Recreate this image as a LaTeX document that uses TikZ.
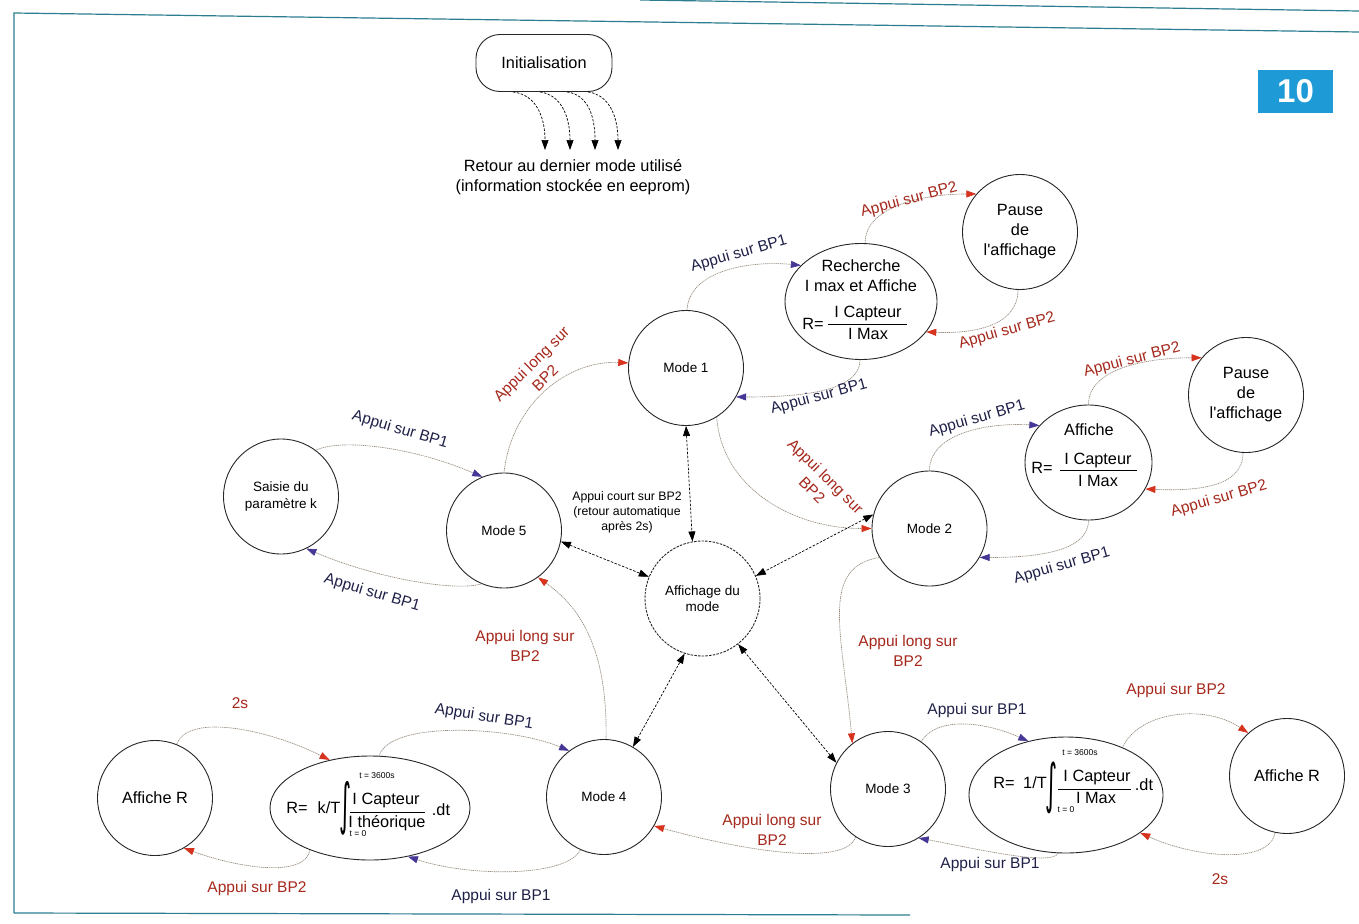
\documentclass[tikz,border=0pt]{standalone}
\usepackage{fontspec}
\setmainfont{Liberation Sans}
\newfontfamily\dejavu{DejaVu Sans}
\usepackage{graphicx}
\usetikzlibrary{arrows.meta,shapes.geometric}
\definecolor{navytxt}{RGB}{30,32,72}
\definecolor{redtxt}{RGB}{165,40,28}
\definecolor{tipblue}{RGB}{70,55,150}
\definecolor{tipred}{RGB}{215,50,30}
\definecolor{lineclr}{RGB}{150,138,125}
\definecolor{frameclr}{RGB}{45,125,145}
\definecolor{badgeclr}{RGB}{30,155,215}
\begin{document}
\begin{tikzpicture}[x=1pt,y=-1pt,
  stcirc/.style={circle, draw=black!85, line width=0.9pt, minimum size=115pt, inner sep=0pt, align=center},
  elnode/.style={ellipse, draw=black!85, line width=0.9pt, inner sep=0pt},
  modelbl/.style={font=\fontsize{13.5}{16}\selectfont},
  biglbl/.style={font=\fontsize{16.3}{20}\selectfont, align=center, inner sep=0pt},
  limlbl/.style={font=\fontsize{8.5}{10}\selectfont, inner sep=0pt},
  lbl/.style={font=\fontsize{15.5}{19.5}\selectfont, inner sep=0pt, align=center},
  bpone/.style={lbl, text=navytxt},
  bptwo/.style={lbl, text=redtxt},
  conn/.style={draw=lineclr, line width=0.65pt, dash pattern=on 1.2pt off 0.7pt},
  toone/.style={conn, -{Triangle[length=10pt,width=7pt,color=tipblue]}},
  totwo/.style={conn, -{Triangle[length=10pt,width=7pt,color=tipred]}},
  twoway/.style={draw=black, line width=0.7pt, dash pattern=on 2.5pt off 1.5pt, {Triangle[length=10pt,width=7pt]}-{Triangle[length=10pt,width=7pt]}},
  initarr/.style={draw=black, line width=0.7pt, dash pattern=on 2.5pt off 1.5pt, -{Triangle[length=10pt,width=7pt]}},
  rulestyle/.style={draw=black, line width=0.9pt}
]
\fill[white] (0,0) rectangle (1359,923);
\useasboundingbox (0,0) rectangle (1359,923);

% frame lines
\draw[frameclr, line width=1.2pt] (14,913) -- (14,13) -- (1359,32);
\draw[frameclr, line width=1.2pt] (640,0) -- (1359,11);
\draw[frameclr, line width=1.2pt] (14,913) -- (910,915);

% badge
\node[fill=badgeclr, minimum width=75pt, minimum height=43pt, inner sep=0pt, text=white, font=\fontsize{33}{33}\selectfont\bfseries] (badge) at (1295.5,91.5) {10};

% initialisation
\node[draw=black!85, line width=0.9pt, rounded corners=24pt, minimum width=136pt, minimum height=57pt, font=\fontsize{16.3}{20}\selectfont] (init) at (544,63) {Initialisation};
\coordinate (r1) at (545,150);
\coordinate (r2) at (570,150);
\coordinate (r3) at (595,150);
\coordinate (r4) at (618,150);
\draw[initarr] ([xshift=-31pt]init.south) .. controls +(24,3) and +(0,-32) .. (r1);
\draw[initarr] ([xshift=-4pt]init.south) .. controls +(22,3) and +(0,-32) .. (r2);
\draw[initarr] ([xshift=23pt]init.south) .. controls +(22,3) and +(0,-32) .. (r3);
\draw[initarr] ([xshift=44pt]init.south) .. controls +(22,3) and +(0,-32) .. (r4);
\node[biglbl] (ret) at (573,177) {Retour au dernier mode utilisé\\(information stockée en eeprom)};

% states
\node[stcirc, modelbl] (m1) at (686,368) {Mode 1};
\node[stcirc, modelbl] (m2) at (929.5,528.5) {Mode 2};
\node[stcirc, modelbl] (m3) at (888,789) {Mode 3};
\node[stcirc, modelbl] (m4) at (604,797) {Mode 4};
\node[stcirc, modelbl] (m5) at (504,530.5) {Mode 5};
\node[stcirc, modelbl, dash pattern=on 2.5pt off 1.2pt] (aff) at (702.5,598.5) {Affichage du\\mode};
\node[stcirc, font=\fontsize{13.5}{16.5}\selectfont] (sai) at (281,496.5) {Saisie du\\paramètre k};
\node[stcirc, font=\fontsize{16.3}{20}\selectfont] (p1) at (1020,232) {Pause\\de\\l\textquotesingle affichage};
\node[stcirc, font=\fontsize{16.3}{20}\selectfont] (p2) at (1246,395) {Pause\\de\\l\textquotesingle affichage};
\node[stcirc, font=\fontsize{16.3}{20}\selectfont] (ar1) at (155,798) {Affiche R};
\node[stcirc, font=\fontsize{16.3}{20}\selectfont] (ar2) at (1287,776) {Affiche R};

% Recherche ellipse
\node[elnode, minimum width=152pt, minimum height=116pt] (rech) at (861,301.5) {};
\node[biglbl] (rechT) at (861,276) {Recherche\\I max et Affiche};
\node[biglbl] (rechR) at (813,324) {R=};
\node[biglbl] (rechN) at (868,313) {I Capteur};
\node[biglbl] (rechD) at (868,334) {I Max};
\draw[rulestyle] (828,324) -- (907,324);

% Affiche ellipse (mode 2)
\node[elnode, minimum width=127pt, minimum height=115pt] (affe) at (1088.5,462.5) {};
\node[biglbl] (affeT) at (1089,430) {Affiche};
\node[biglbl] (affeR) at (1042,468) {R=};
\node[biglbl] (affeN) at (1098,460) {I Capteur};
\node[biglbl] (affeD) at (1098,481) {I Max};
\draw[rulestyle] (1060,470) -- (1137,470);

% Ellipse mode 4
\node[elnode, minimum width=200pt, minimum height=104pt] (e4) at (370,808) {};
\node[biglbl] (e4R) at (297,808) {R=};
\node[biglbl] (e4K) at (329,808) {k/T};
\node[inner sep=0pt] (e4I) at (345,808) {\resizebox*{12pt}{54pt}{\dejavu ∫}};
\node[limlbl] (e4top) at (377,776) {t = 3600s};
\node[limlbl] (e4bot) at (358,834) {t = 0};
\node[biglbl] (e4N) at (386,800) {I Capteur};
\node[biglbl] (e4D) at (387,823) {I théorique};
\draw[rulestyle] (350,812) -- (425,812);
\node[biglbl] (e4dt) at (441,810) {.dt};

% Ellipse mode 3
\node[elnode, minimum width=194pt, minimum height=116pt] (e3) at (1066,795) {};
\node[biglbl] (e3R) at (1004,783) {R=};
\node[biglbl] (e3K) at (1035,783) {1/T};
\node[inner sep=0pt] (e3I) at (1051,788) {\resizebox*{12pt}{52pt}{\dejavu ∫}};
\node[limlbl] (e3top) at (1080,753) {t = 3600s};
\node[limlbl] (e3bot) at (1066,810) {t = 0};
\node[biglbl] (e3N) at (1097,777) {I Capteur};
\node[biglbl] (e3D) at (1096,798) {I Max};
\draw[rulestyle] (1058,789) -- (1131,789);
\node[biglbl] (e3dt) at (1144,785) {.dt};

% Mode 1 loop
\draw[toone] (m1.89) .. controls +(2,-40) and +(-50,-5) .. (rech.149);
\draw[toone] (rech.269) .. controls +(0,35) and +(50,0) .. (m1.-30);
\draw[totwo] (rech.86) .. controls +(0,-38) and +(-50,0) .. (p1.139);
\draw[totwo] (p1.268) .. controls +(0,35) and +(50,2) .. (rech.-25);
\node[bpone, rotate=16] (l1) at (739,254) {Appui sur BP1};
\node[bpone, rotate=15] (l2) at (819,397) {Appui sur BP1};
\node[bptwo, rotate=15] (l3) at (909,200) {Appui sur BP2};
\node[bptwo, rotate=15.5] (l4) at (1007,331) {Appui sur BP2};

% Mode 2 loop
\draw[toone] (m2.90) .. controls +(0,-38) and +(-50,-3) .. (affe.143);
\draw[toone] (affe.270) .. controls +(0,33) and +(50,0) .. (m2.-30);
\draw[totwo] (affe.90) .. controls +(0,-38) and +(-50,0) .. (p2.140);
\draw[totwo] (p2.267) .. controls +(0,35) and +(50,2) .. (affe.-25);
\node[bpone, rotate=16] (l5) at (977,419) {Appui sur BP1};
\node[bpone, rotate=16] (l6) at (1062,566) {Appui sur BP1};
\node[bptwo, rotate=14.5] (l7) at (1132,360) {Appui sur BP2};
\node[bptwo, rotate=16] (l8) at (1219,499) {Appui sur BP2};

% long presses
\draw[totwo] (m1.-58) .. controls +(5,70) and +(-80,0) .. (m2.180);
\node[bptwo, rotate=-44.6] (l9) at (819,483) {Appui long sur\\BP2};
\draw[totwo] (m2.210) .. controls +(-60,10) and +(-10,-110) .. (m3.128);
\node[bptwo] (l10) at (908,651) {Appui long sur\\BP2};
\draw[totwo] (m3.236) .. controls +(-10,30) and +(90,25) .. (m4.-30);
\node[bptwo] (l11) at (772,830) {Appui long sur\\BP2};
\draw[totwo] (m4.88) .. controls +(2,-100) and +(35,25) .. (m5.-54);
\node[bptwo] (l12) at (525,646) {Appui long sur\\BP2};
\draw[totwo] (m5.90) .. controls +(8,-70) and +(-60,-3) .. (m1.175);
\node[bptwo, rotate=44.6] (l13) at (538,371) {Appui long sur\\BP2};

% Mode 5 loop
\draw[toone] (sai.53) .. controls +(25,-12) and +(-70,-30) .. (m5.112);
\draw[toone] (m5.247) .. controls +(-25,8) and +(70,30) .. (sai.-64);
\node[bpone, rotate=-16.5] (l14) at (400,430) {Appui sur BP1};
\node[bpone, rotate=-16.5] (l15) at (372,593) {Appui sur BP1};

% Mode 3 loop
\draw[toone] (m3.55) .. controls +(15,-25) and +(-45,-20) .. (e3.125);
\draw[toone] (e3.262) .. controls +(-5,14) and +(45,8) .. (m3.-58);
\draw[totwo] (e3.40) .. controls +(15,-35) and +(-45,-30) .. (ar2.132);
\draw[totwo] (ar2.258) .. controls +(-5,32) and +(55,25) .. (e3.-27);
\node[bpone] (l16) at (977,710) {Appui sur BP1};
\node[bpone] (l17) at (990,864) {Appui sur BP1};
\node[bptwo] (l18) at (1176,690) {Appui sur BP2};
\node[bptwo] (l19) at (1220,879) {2s};

% Mode 4 loop
\draw[toone] (e4.80) .. controls +(10,-35) and +(-60,-25) .. (m4.127);
\draw[toone] (m4.246) .. controls +(-15,28) and +(60,20) .. (e4.-52);
\draw[totwo] (ar1.68) .. controls +(12,-32) and +(-60,-30) .. (e4.130);
\draw[totwo] (e4.215) .. controls +(-5,28) and +(55,20) .. (ar1.-60);
\node[bpone, rotate=-9] (l20) at (484,717) {Appui sur BP1};
\node[bpone] (l21) at (501,896) {Appui sur BP1};
\node[bptwo] (l22) at (240,703) {2s};
\node[bptwo] (l23) at (257,888) {Appui sur BP2};

% mode display arrows
\draw[twoway] (m1.270) -- (aff.100);
\draw[twoway] (m5.-11) -- (aff.158);
\draw[twoway] (m2.166) -- (aff.23);
\draw[twoway] (m4.60) -- (aff.-108);
\draw[twoway] (m3.153) -- (aff.-52);
\node[font=\fontsize{12.3}{15}\selectfont, align=center, inner sep=0pt] (court) at (627,512) {Appui court sur BP2\\(retour automatique\\après 2s)};
\end{tikzpicture}
\end{document}
